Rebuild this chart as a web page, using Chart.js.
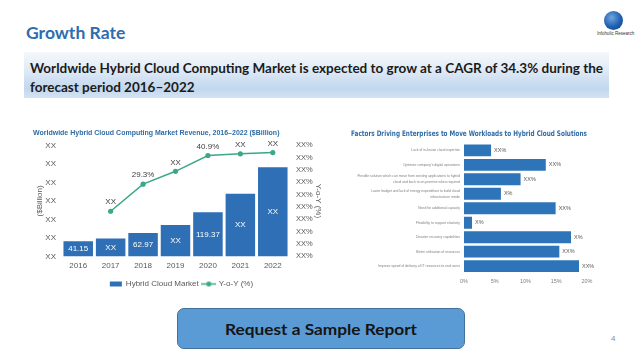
<!DOCTYPE html>
<html><head><meta charset="utf-8">
<script src="https://cdn.jsdelivr.net/npm/chart.js@4.4.1/dist/chart.umd.min.js"></script>
<style>
html,body{margin:0;padding:0;background:#fff;width:638px;height:359px;overflow:hidden;font-family:Lato,'Liberation Sans',sans-serif;}
.abs{position:absolute;white-space:nowrap;}
#title{left:26px;top:22px;font-size:17px;font-weight:bold;color:#2e6db0;transform-origin:0 50%;}
#banner{left:24px;top:52px;width:585px;height:46px;background:linear-gradient(to bottom,#f5f8fc 0%,#e2ecf7 35%,#c2d7ee 80%,#d4e3f3 100%);}
.bline{left:30px;font-size:13.5px;font-weight:bold;color:#1b1b1b;transform-origin:0 50%;line-height:16px;}
#btn{left:177px;top:308px;width:288px;height:41px;background:#5b9bd5;border:1px solid #41719c;border-radius:7px;box-sizing:border-box;}
#btnText{font-size:16px;font-weight:bold;color:#151515;transform-origin:50% 50%;line-height:20px;}
#logoG{left:604px;top:11px;width:19px;height:19px;border-radius:50%;background:radial-gradient(circle at 40% 35%,#6fa6e0 0%,#1f5fb0 55%,#123f80 100%);}
#logoT{left:597px;top:31px;font-size:4.5px;color:#333;font-family:'Liberation Sans',sans-serif;}
#pg{left:611px;top:334px;font-size:8px;color:#8c8c8c;font-family:'Liberation Sans',sans-serif;}
canvas{position:absolute;}
</style></head><body>
<div id="title" class="abs">Growth Rate</div>
<div id="banner" class="abs"></div>
<div id="b1" class="abs bline" style="top:60px">Worldwide Hybrid Cloud Computing Market is expected to grow at a CAGR of 34.3% during the</div>
<div id="b2" class="abs bline" style="top:79px">forecast period 2016–2022</div>
<div id="logoG" class="abs"></div>
<div id="logoT" class="abs">Infoholic Research</div>
<canvas id="c1" width="297" height="173" style="left:33px;top:125px"></canvas>
<canvas id="c2" width="254" height="165" style="left:351px;top:125px"></canvas>
<div id="btn" class="abs"></div>
<div id="btnText" class="abs">Request a Sample Report</div>
<div id="pg" class="abs">4</div>
<script>
// ---------- data: left chart ----------
const years = ['2016','2017','2018','2019','2020','2021','2022'];
const revenue = [41.15, 48.7, 62.97, 84.7, 119.37, 169.5, 240.8];
const yoy = [null, 18.3, 29.3, 34.5, 40.9, 41.6, 42.1];
const revenueLabels = ['41.15','XX','62.97','XX','119.37','XX','XX'];
const yoyLabels = ['','XX','29.3%','XX','40.9%','XX','XX'];
const leftTickLabels = ['XX','XX','XX','XX','XX','XX','XX'];
const rightTickLabels = ['XX%','XX%','XX%','XX%','XX%','XX%','XX%','XX%','XX%','XX%'];

// ---------- data: right chart ----------
const factors = [
  'Lack of in-house cloud expertise',
  'Optimize company\u2019s digital operations',
  ['Flexible solution which can move from existing applications to hybrid','cloud and back to on-premise when required'],
  ['Lower budget and lack of energy expenditure to build cloud','infrastructure inside'],
  'Need for additional capacity',
  'Flexibility to support elasticity',
  'Disaster recovery capabilities',
  'Better utilisation of resources',
  'Improve speed of delivery of IT resources to end users'
];
const factorValues = [4.4, 13.3, 9.2, 6.0, 14.9, 1.3, 17.4, 15.5, 18.7];
const factorLabels = ['XX%','XX%','XX%','X%','XX%','X%','X%','XX%','XX%'];
const factorTickLabels = ['0%','5%','10%','15%','20%'];

// ---------- slide text fitting ----------
function fitW(el, w){ const s = w / el.scrollWidth; el.style.transform = 'scaleX(' + s + ')'; return s; }
fitW(document.getElementById('title'), 99);
const s1 = fitW(document.getElementById('b1'), 573);
document.getElementById('b2').style.transform = 'scaleX(' + s1 + ')';
(function(){
  const t = document.getElementById('btnText');
  const w = t.scrollWidth, h = t.offsetHeight;
  t.style.left = (321 - w/2) + 'px';
  t.style.top = (328.5 - h/2) + 'px';
  t.style.transform = 'scaleX(' + (192 / w) + ')';
})();

// ---------- value label plugin ----------
const valueLabels = {
  id: 'valueLabels',
  afterDatasetsDraw(chart, args, opts) {
    const ctx = chart.ctx;
    (opts.items || []).forEach(it => {
      const meta = chart.getDatasetMeta(it.ds);
      meta.data.forEach((el, i) => {
        const t = it.labels[i];
        if (!t) return;
        const p = el.getProps(['x','y','base'], true);
        let x, y;
        if (it.pos === 'center') { x = p.x; y = (p.y + p.base) / 2; }
        else if (it.pos === 'above') { x = p.x; y = p.y - it.offset; }
        else { x = p.x + it.offset; y = p.y; }
        ctx.save();
        ctx.font = it.font;
        ctx.fillStyle = it.color;
        ctx.textAlign = it.pos === 'right' ? 'left' : 'center';
        ctx.textBaseline = 'middle';
        ctx.fillText(t, x, y);
        ctx.restore();
      });
    });
  }
};

const BAR = '#2e6fb6';
const LINE = '#3aa88a';
const AX = '#595959';

// legend marker image for the line series
const mk = document.createElement('canvas');
mk.width = 15; mk.height = 7;
(function(){
  const c = mk.getContext('2d');
  c.strokeStyle = LINE; c.lineWidth = 1.5;
  c.beginPath(); c.moveTo(0,3.5); c.lineTo(15,3.5); c.stroke();
  c.fillStyle = LINE; c.beginPath(); c.arc(7.5,3.5,2.5,0,Math.PI*2); c.fill();
})();

new Chart(document.getElementById('c1'), {
  type: 'bar',
  data: {
    labels: years,
    datasets: [
      { label: 'Hybrid Cloud Market', data: revenue, backgroundColor: BAR, yAxisID: 'y',
        barPercentage: 0.91, categoryPercentage: 1 },
      { type: 'line', label: 'Y-o-Y (%)', data: yoy, borderColor: LINE, backgroundColor: LINE,
        borderWidth: 1.5, pointRadius: 2.6, pointBackgroundColor: LINE, pointBorderWidth: 0,
        yAxisID: 'y1', tension: 0, spanGaps: false }
    ]
  },
  options: {
    responsive: false, animation: false,
    layout: { padding: 0 },
    plugins: {
      title: { display: true, align: 'start', text: 'Worldwide Hybrid Cloud Computing Market Revenue, 2016\u20132022 ($Billion)',
        color: '#2f6ca6', font: { size: 7, weight: 'bold', family: 'Liberation Sans' }, padding: { top: 4, bottom: 8 } },
      legend: { position: 'bottom',
        labels: { usePointStyle: true, pointStyleWidth: 12, boxHeight: 5, padding: 4, color: AX,
          font: { size: 8, family: 'Liberation Sans' },
          generateLabels(chart) {
            const items = Chart.defaults.plugins.legend.labels.generateLabels(chart);
            items.forEach(it => {
              if (it.datasetIndex === 0) { it.pointStyle = 'rect'; it.lineWidth = 0; }
              else { it.pointStyle = mk; }
            });
            return items;
          } } },
      tooltip: { enabled: false },
      valueLabels: { items: [
        { ds: 0, labels: revenueLabels, pos: 'center', font: '8px "Liberation Sans"', color: '#ffffff' },
        { ds: 1, labels: yoyLabels, pos: 'above', offset: 9, font: '8px "Liberation Sans"', color: '#404040' }
      ] }
    },
    scales: {
      x: { grid: { display: false, drawTicks: false }, border: { display: false },
        ticks: { color: AX, font: { size: 8, family: 'Liberation Sans' }, padding: 5 } },
      y: { position: 'left', min: 0, max: 300,
        afterFit(s) { s.width = 29; },
        grid: { display: false, drawTicks: false }, border: { display: false },
        ticks: { stepSize: 50, padding: 6, autoSkip: false, color: AX, font: { size: 8, family: 'Liberation Sans' },
          callback: (v, i) => leftTickLabels[i] },
        title: { display: true, text: '($Billion)', color: AX, font: { size: 8, family: 'Liberation Sans' }, padding: { top: 2, bottom: 0 } } },
      y1: { position: 'right', min: 0, max: 45,
        afterFit(s) { s.width = 41; },
        grid: { display: false, drawTicks: false }, border: { display: false },
        ticks: { stepSize: 5, padding: 7, autoSkip: false, color: AX, font: { size: 7.5, family: 'Liberation Sans' },
          callback: (v, i) => rightTickLabels[i] },
        title: { display: true, text: 'Y-o-Y (%)', color: AX, font: { size: 8, family: 'Liberation Sans' }, padding: { top: 7, bottom: 0 } } }
    }
  },
  plugins: [valueLabels]
});

new Chart(document.getElementById('c2'), {
  type: 'bar',
  data: {
    labels: factors,
    datasets: [{ label: 'Share', data: factorValues, backgroundColor: '#2e74b8',
      barPercentage: 0.82, categoryPercentage: 1 }]
  },
  options: {
    indexAxis: 'y', responsive: false, animation: false,
    layout: { padding: { right: 18 } },
    plugins: {
      title: { display: true, text: 'Factors Driving Enterprises to Move Workloads to Hybrid Cloud Solutions',
        color: '#2f6ca6', font: { size: 7.6, weight: 'bold', family: "'Liberation Sans Narrow', 'DejaVu Sans Condensed', 'Liberation Sans'" },
        padding: { top: 4, bottom: 5 } },
      legend: { display: false },
      tooltip: { enabled: false },
      valueLabels: { items: [
        { ds: 0, labels: factorLabels, pos: 'right', offset: 3, font: '5.5px "Liberation Sans"', color: '#595959' }
      ] }
    },
    scales: {
      x: { min: 0, max: 20,
        grid: { display: false, drawTicks: false }, border: { display: false },
        ticks: { stepSize: 5, padding: 5, color: '#7f7f7f', font: { size: 5.5, family: 'Liberation Sans' },
          callback: (v, i) => factorTickLabels[i] } },
      y: { afterFit(s) { s.width = 113; },
        grid: { display: false, drawTicks: false }, border: { display: false },
        ticks: { padding: 4, color: '#7f7f7f', autoSkip: false,
          font: { size: 3.4, lineHeight: 1.8, family: "'Liberation Sans Narrow', 'Liberation Sans'" } } }
    }
  },
  plugins: [valueLabels]
});
</script>
</body></html>
